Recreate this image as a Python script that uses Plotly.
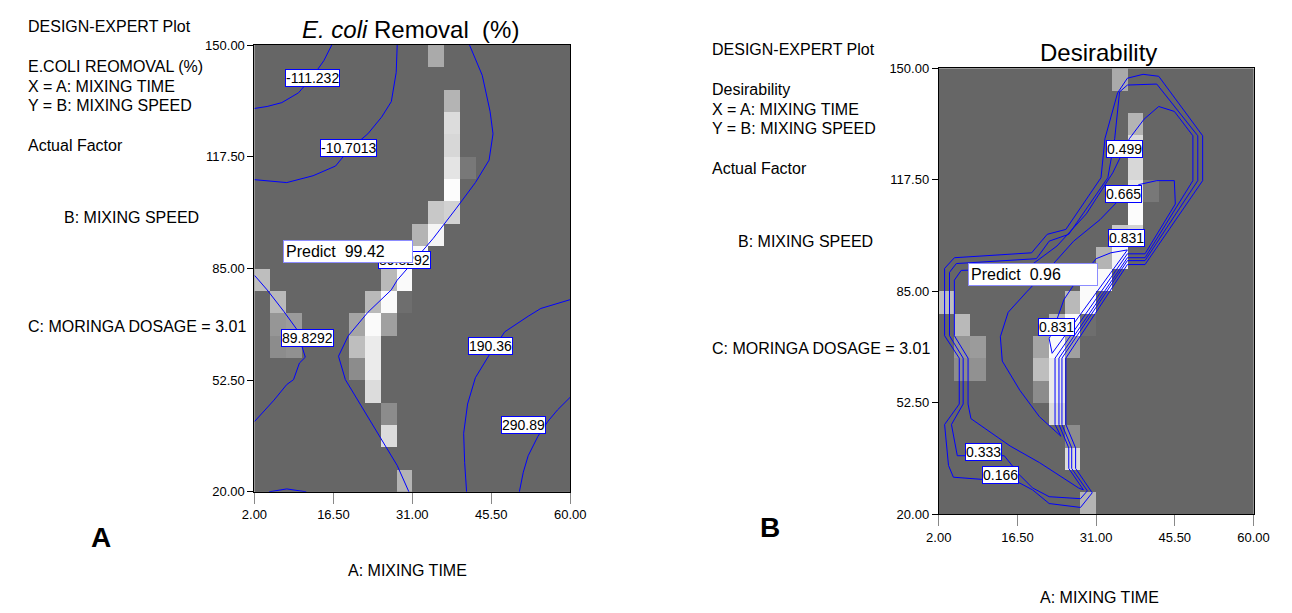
import numpy as np
import plotly.graph_objects as go

# ---------------- data ----------------
# shaded design-space cells (shared by both panels): centre of cell (mixing time, mixing speed) and grey level
cell_time  = [35.35, 38.25, 38.25, 38.25, 38.25, 41.15, 38.25, 35.35, 38.25, 32.45, 35.35,
              29.55, 32.45, 3.45, 26.65, 29.55, 6.35, 23.75, 26.65, 29.55,
              6.35, 9.25, 20.85, 23.75, 26.65, 6.35, 9.25, 20.85, 23.75,
              20.85, 23.75, 23.75, 26.65, 26.65, 29.55]
cell_speed = [146.75, 133.75, 127.25, 120.75, 114.25, 114.25, 107.75, 101.25, 101.25, 94.75, 94.75,
              88.25, 88.25, 81.75, 81.75, 81.75, 75.25, 75.25, 75.25, 75.25,
              68.75, 68.75, 68.75, 68.75, 68.75, 62.25, 62.25, 62.25, 62.25,
              55.75, 55.75, 49.25, 42.75, 36.25, 23.25]
cell_grey  = [170, 180, 220, 215, 228, 120, 252, 200, 210, 180, 245,
              250, 250, 190, 185, 250, 185, 185, 250, 110,
              150, 155, 165, 250, 160, 140, 145, 190, 235,
              140, 235, 220, 140, 220, 180]
background_grey = 102

time_ticks = [2.0, 16.5, 31.0, 45.5, 60.0]
speed_ticks = [20.0, 52.5, 85.0, 117.5, 150.0]

# Panel A contour lines (E. coli removal %)
a_m111_x = [16.19, 14.75, 12.59, 10.08, 7.03, 4.33, 2.0]
a_m111_y = [150.0, 145.46, 140.63, 136.09, 133.25, 132.12, 131.55]
a_m107_x = [28.22, 28.04, 27.14, 25.34, 22.83, 19.24, 16.90, 12.77, 7.93, 2.0]
a_m107_y = [150.0, 142.05, 133.54, 129.0, 124.17, 119.35, 114.80, 111.97, 109.98, 110.83]
a_m107b_x = [4.69, 7.93, 11.52]
a_m107b_y = [20.0, 20.85, 20.0]
a_898_x = [41.51, 43.84, 45.28, 45.82, 45.10, 42.58, 38.99, 34.86, 31.81, 28.22, 27.14, 22.83,
           19.24, 17.44, 18.70, 21.75, 25.34, 28.22, 30.37]
a_898_y = [150.0, 141.2, 130.7, 124.17, 116.51, 109.98, 102.32, 93.80, 88.12, 81.59, 78.76, 72.23,
           65.42, 59.46, 52.64, 44.70, 35.33, 27.67, 20.0]
a_898b_x = [2.0, 4.33, 7.39, 9.72, 11.34, 10.26, 9.18, 7.93, 5.59, 2.0]
a_898b_y = [83.01, 78.76, 72.51, 67.40, 59.17, 57.47, 52.64, 51.22, 46.68, 40.44]
a_190_x = [60.0, 54.61, 52.28, 47.97, 45.10, 42.58, 41.15, 40.43, 40.61, 40.97]
a_190_y = [75.92, 73.36, 71.09, 66.55, 59.74, 53.21, 45.55, 37.03, 28.52, 20.0]
a_291_x = [60.0, 57.67, 55.87, 54.08, 52.28, 51.38, 50.66]
a_291_y = [47.53, 43.84, 40.44, 36.18, 30.50, 25.68, 20.0]

a_label_text = ["-111.232", "-10.7013", "89.8292", "89.8292", "190.36", "290.89"]
a_label_x = [12.59, 19.24, 29.65, 11.70, 45.28, 51.38]
a_label_y = [140.49, 119.91, 87.41, 64.71, 62.44, 39.44]
a_predict = ("Predict  99.42", 19.24, 89.97)

# Panel B contour lines (desirability)
b_166_x = [36.76, 39.65, 42.53, 50.63, 50.63, 40.01, 36.76, 25.42, 25.42, 27.22, 27.22, 30.28, 28.12,
           22.35, 19.29, 16.59, 4.70, 3.80, 3.08, 5.78, 5.78, 3.08, 3.08, 4.88, 19.11, 21.99, 25.42,
           31.90, 32.62, 34.96, 36.76]
b_166_y = [147.16, 148.29, 147.72, 130.37, 117.29, 92.82, 92.82, 65.52, 46.17, 39.34, 33.37, 26.26, 21.99,
           23.13, 27.11, 29.39, 30.81, 34.23, 46.17, 52.14, 65.52, 72.06, 91.69, 94.81, 96.24, 101.64, 103.06,
           118.14, 129.52, 142.89, 147.16]
b_333_x = [36.76, 42.17, 49.73, 49.73, 40.01, 36.76, 24.70, 24.70, 26.50, 26.50, 29.38, 28.12, 22.35,
           19.29, 16.95, 14.07, 5.42, 4.34, 6.50, 6.50, 3.98, 3.98, 5.24, 20.01, 22.35, 25.96, 33.16,
           34.42, 35.32, 36.76]
b_333_y = [145.16, 145.45, 130.37, 117.29, 93.96, 93.96, 65.52, 46.17, 39.34, 33.37, 26.83, 24.55, 25.12,
           27.68, 31.38, 37.07, 37.07, 46.17, 52.14, 65.52, 72.06, 90.55, 93.11, 94.53, 99.65, 101.64, 118.14,
           129.52, 143.17, 145.16]
b_499_x = [39.83, 42.53, 45.41, 48.83, 48.83, 40.01, 36.76, 24.15, 24.15, 25.96, 25.96, 28.66, 27.76,
           20.55, 15.15, 7.94, 7.40, 7.40, 4.88, 4.88, 6.14, 18.21, 23.79, 29.20, 34.06, 37.12, 39.83]
b_499_y = [135.21, 138.91, 137.48, 130.37, 117.29, 94.81, 94.81, 65.52, 46.17, 39.34, 33.37, 27.11, 27.68,
           35.08, 39.91, 47.88, 52.14, 65.52, 72.06, 88.27, 91.12, 91.69, 98.23, 107.62, 119.56, 129.52, 135.21]
b_665_x = [42.17, 45.41, 45.59, 40.01, 36.76, 23.43, 23.43, 24.51, 20.55, 16.95, 13.71, 13.35, 14.79,
           18.21, 22.35, 26.86, 31.72, 36.04, 38.92, 42.17]
b_665_y = [117.29, 117.29, 110.46, 95.95, 95.95, 65.52, 46.17, 42.76, 48.45, 56.13, 64.66, 71.77, 78.89,
           84.86, 91.69, 99.65, 105.91, 113.02, 116.15, 117.29]
b_831_x = [31.00, 33.70, 36.76, 22.89, 22.35, 23.79, 25.06, 26.86, 29.56, 31.00]
b_831_y = [94.53, 96.24, 97.09, 66.94, 71.20, 76.89, 82.58, 86.85, 91.69, 94.53]

b_label_text = ["0.499", "0.665", "0.831", "0.831", "0.333", "0.166"]
b_label_x = [36.22, 36.04, 36.67, 23.61, 10.29, 13.35]
b_label_y = [126.53, 113.45, 100.65, 74.48, 38.06, 31.5]
b_predict = ("Predict  0.96", 19.29, 89.89)

# ---------------- figure ----------------
W, H = 1292, 613
FONT = "Liberation Sans, Arial, sans-serif"
BLUE = "#0000ff"

n = 20
dx = (time_ticks[-1] - time_ticks[0]) / n
dy = (speed_ticks[-1] - speed_ticks[0]) / n
gx = time_ticks[0] + dx * (np.arange(n) + 0.5)
gy = speed_ticks[0] + dy * (np.arange(n) + 0.5)
z = np.full((n, n), float(background_grey))
for t, s, g in zip(cell_time, cell_speed, cell_grey):
    i = int(round((s - speed_ticks[0]) / dy - 0.5))
    j = int(round((t - time_ticks[0]) / dx - 0.5))
    z[i, j] = g

fig = go.Figure()

def add_heat(xa, ya):
    fig.add_trace(go.Heatmap(x=gx, y=gy, z=z, zmin=0, zmax=255,
                             colorscale=[[0, "rgb(0,0,0)"], [1, "rgb(255,255,255)"]],
                             showscale=False, xaxis=xa, yaxis=ya, hoverinfo="skip"))

def add_line(xs, ys, xa, ya):
    fig.add_trace(go.Scatter(x=xs, y=ys, mode="lines", line=dict(color=BLUE, width=1),
                             xaxis=xa, yaxis=ya, showlegend=False, hoverinfo="skip"))

add_heat("x", "y")
for xs, ys in [(a_m111_x, a_m111_y), (a_m107_x, a_m107_y), (a_m107b_x, a_m107b_y),
               (a_898_x, a_898_y), (a_898b_x, a_898b_y), (a_190_x, a_190_y), (a_291_x, a_291_y)]:
    add_line(xs, ys, "x", "y")

add_heat("x2", "y2")
for xs, ys in [(b_166_x, b_166_y), (b_333_x, b_333_y), (b_499_x, b_499_y),
               (b_665_x, b_665_y), (b_831_x, b_831_y)]:
    add_line(xs, ys, "x2", "y2")

ann = []
def label(text, x, y, xref, yref):
    ann.append(dict(text=text, x=x, y=y, xref=xref, yref=yref, showarrow=False,
                    font=dict(family=FONT, size=14, color="black"),
                    bgcolor="white", bordercolor=BLUE, borderwidth=1, borderpad=0))

for t, x, y in zip(a_label_text, a_label_x, a_label_y):
    label(t, x, y, "x", "y")
for t, x, y in zip(b_label_text, b_label_x, b_label_y):
    label(t, x, y, "x2", "y2")

for (t, x, y), xr, yr in [(a_predict, "x", "y"), (b_predict, "x2", "y2")]:
    ann.append(dict(text=t, x=x, y=y, xref=xr, yref=yr, showarrow=False, width=124, align="left",
                    font=dict(family=FONT, size=16, color="black"),
                    bgcolor="white", bordercolor="#8c8cff", borderwidth=1, borderpad=2))

def ptext(text, x, y, size=16, xanchor="left", bold=False):
    ann.append(dict(text=("<b>%s</b>" % text) if bold else text, x=x / W, y=1 - y / H,
                    xref="paper", yref="paper", xanchor=xanchor, yanchor="middle", showarrow=False,
                    font=dict(family=FONT, size=size, color="black")))

# Panel A side text
ptext("DESIGN-EXPERT Plot", 13, 20)
ptext("E.COLI REOMOVAL (%)", 13, 61)
ptext("X = A: MIXING TIME", 13, 81)
ptext("Y = B: MIXING SPEED", 13, 101)
ptext("Actual Factor", 13, 142)
ptext("B: MIXING SPEED", 50, 216)
ptext("C: MORINGA DOSAGE = 3.01", 13, 328)
ptext("<i>E. coli</i> Removal\u00a0\u00a0(%)", 407, 23, size=24, xanchor="center")
ptext("A: MIXING TIME", 404, 578, xanchor="center")
ptext("A", 90, 544, size=28, xanchor="center", bold=True)

# Panel B side text
ptext("DESIGN-EXPERT Plot", 713, 44)
ptext("Desirability", 713, 85)
ptext("X = A: MIXING TIME", 713, 105)
ptext("Y = B: MIXING SPEED", 713, 125)
ptext("Actual Factor", 713, 166)
ptext("B: MIXING SPEED", 740, 240)
ptext("C: MORINGA DOSAGE = 3.01", 713, 350)
ptext("Desirability", 1110, 47, size=24, xanchor="center")
ptext("A: MIXING TIME", 1111, 605, xanchor="center")
ptext("B", 774, 534, size=28, xanchor="center", bold=True)

def xax(dom, anchor):
    return dict(domain=dom, anchor=anchor, range=[time_ticks[0], time_ticks[-1]], tickvals=time_ticks,
                tickformat=".2f", ticks="outside", ticklen=11, tickcolor="#888888", tickwidth=1,
                showline=True, linecolor="black", linewidth=1, mirror=True, showgrid=False, zeroline=False,
                tickfont=dict(family=FONT, size=13, color="black"))

def yax(dom, anchor):
    return dict(domain=dom, anchor=anchor, range=[speed_ticks[0], speed_ticks[-1]], tickvals=speed_ticks,
                tickformat=".2f", ticks="outside", ticklen=6, tickcolor="black", tickwidth=1,
                showline=True, linecolor="black", linewidth=1, mirror=True, showgrid=False, zeroline=False,
                tickfont=dict(family=FONT, size=13, color="black"))

fig.update_layout(
    width=W, height=H, margin=dict(l=0, r=0, t=0, b=0),
    paper_bgcolor="white", plot_bgcolor="rgb(102,102,102)", showlegend=False,
    xaxis=xax([247 / W, 570 / W], "y"), yaxis=yax([1 - 497 / H, 1 - 39 / H], "x"),
    xaxis2=xax([947 / W, 1269 / W], "y2"), yaxis2=yax([1 - 520 / H, 1 - 63 / H], "x2"),
    annotations=ann,
)

fig.write_html("out.html", config={"displayModeBar": False},
               post_script="document.body.style.margin='0';document.body.style.overflow='hidden';")
